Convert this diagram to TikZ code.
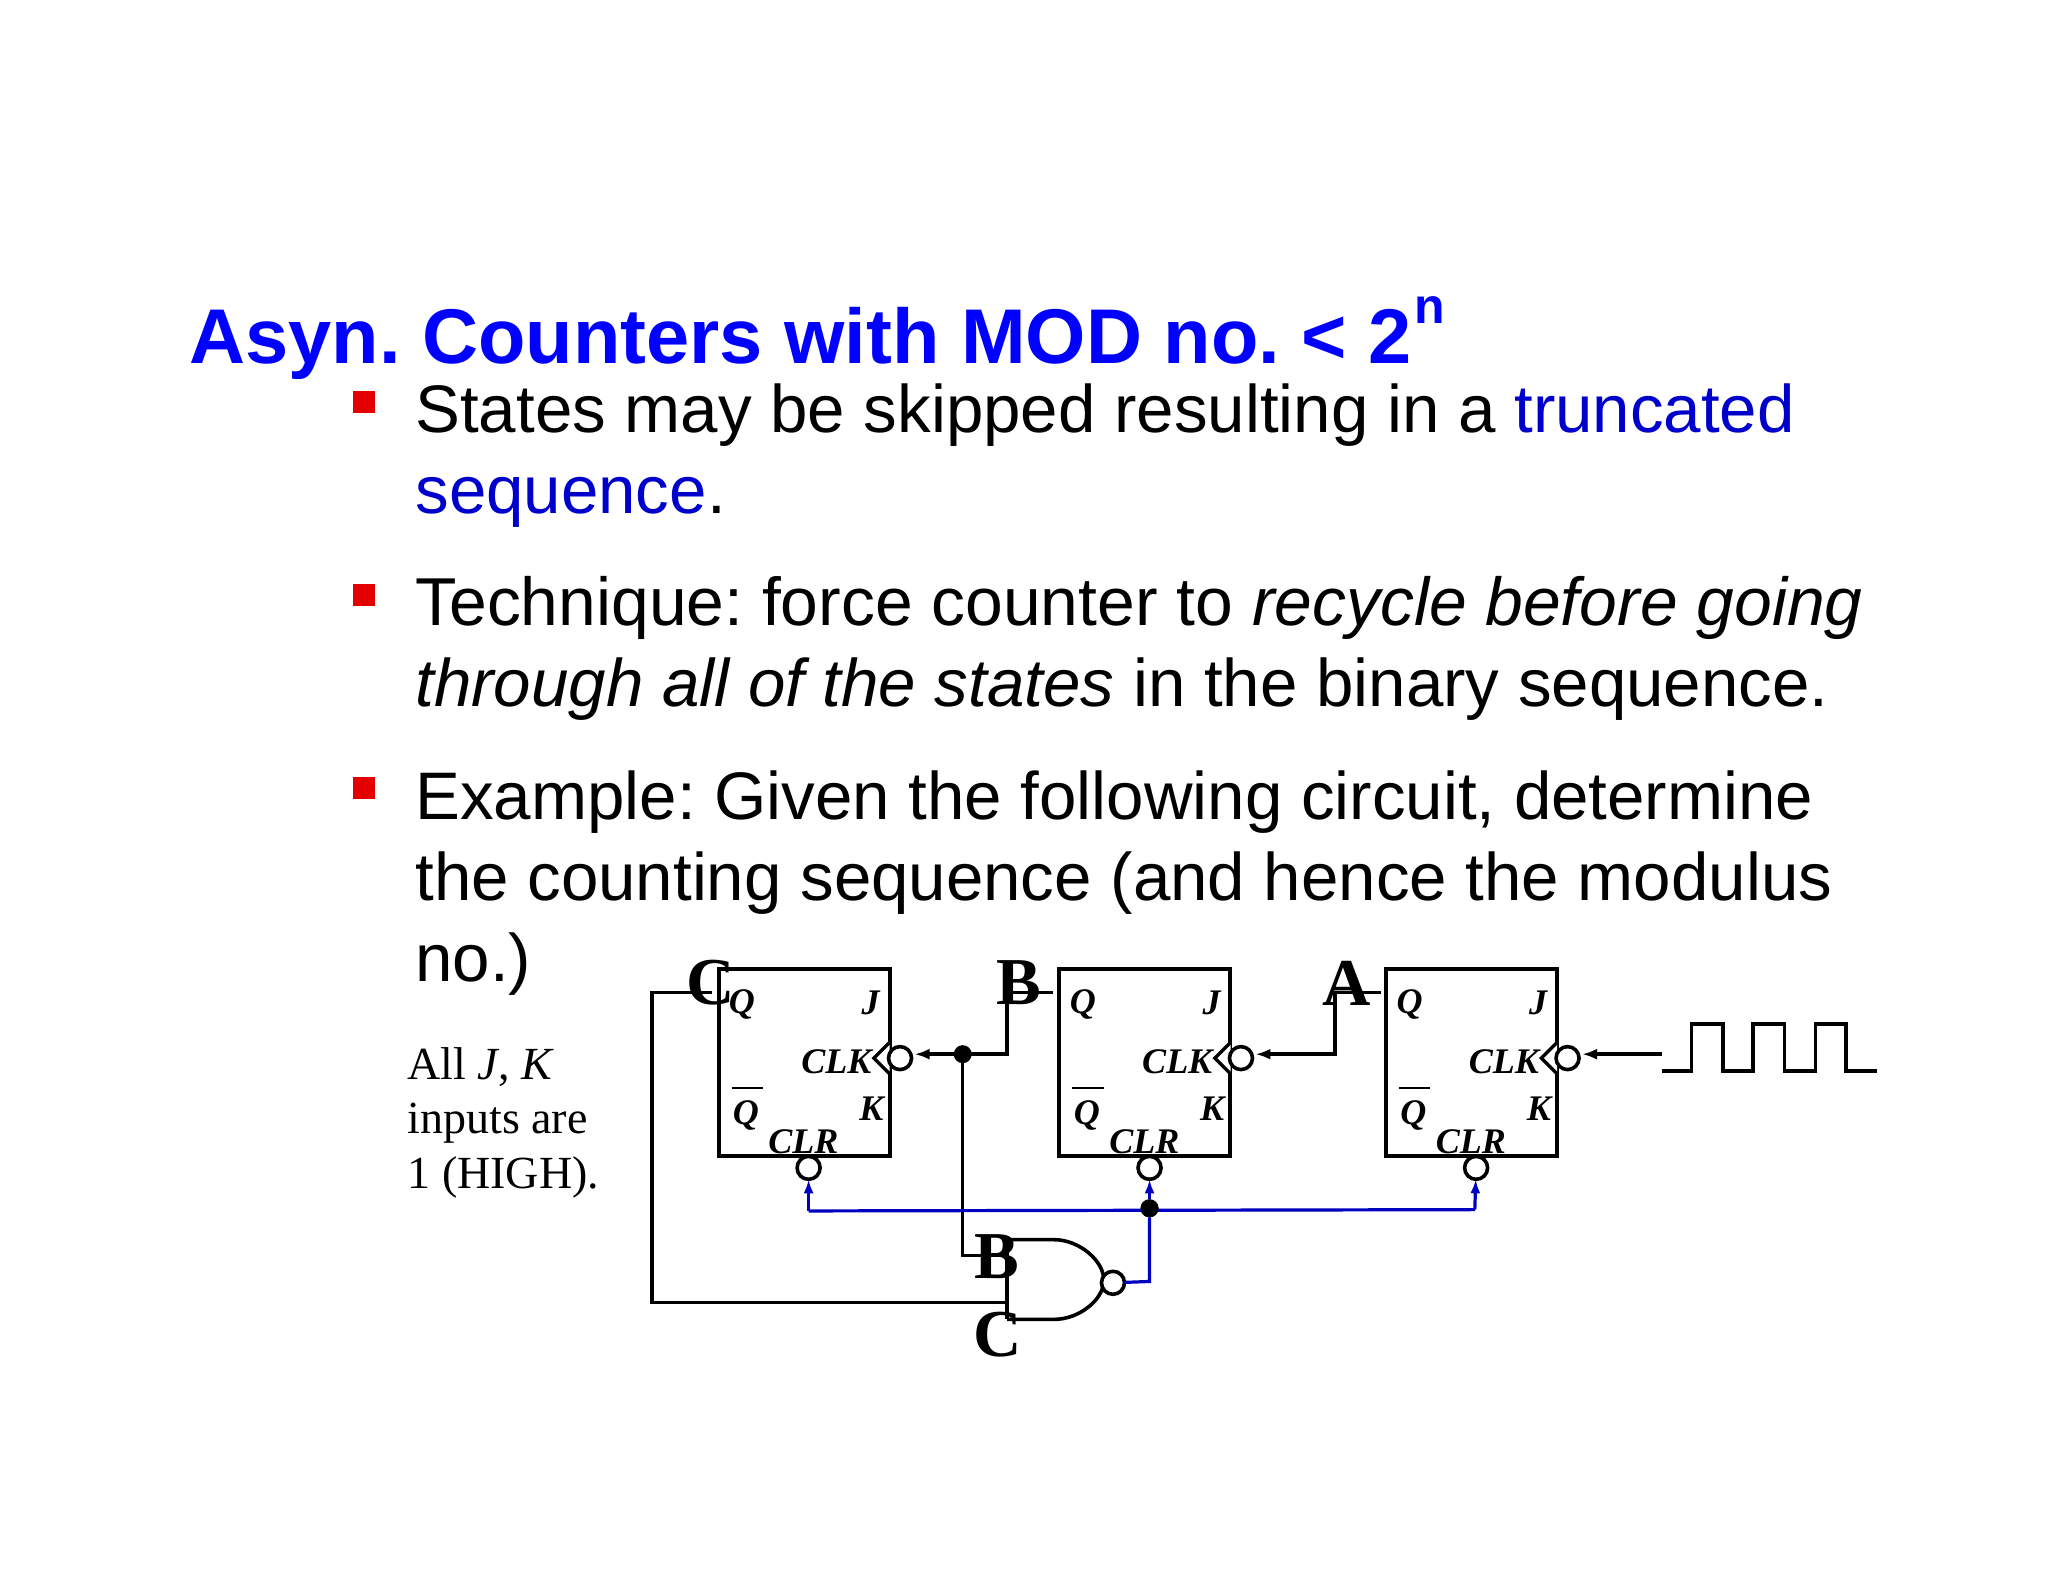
\documentclass[tikz,border=0pt]{standalone}
\usepackage{fontspec}
\setmainfont{Liberation Sans}
\newfontfamily\tms{Liberation Serif}
\usetikzlibrary{arrows.meta}
\definecolor{ttl}{RGB}{0,0,255}
\definecolor{hl}{RGB}{0,0,204}
\definecolor{wb}{RGB}{0,0,192}
\definecolor{bul}{RGB}{227,0,0}
\newcommand\bodysz{\frenchspacing\fontsize{67.25}{80}\selectfont}
\newcommand\widesz{\frenchspacing\fontsize{67.8}{80}\selectfont}
\newcommand\pinsz{\tms\bfseries\itshape\fontsize{36}{40}\selectfont}
\newcommand\bigsz{\tms\bfseries\fontsize{67}{70}\selectfont}
\tikzset{
  txt/.style={anchor=base west,inner sep=0,outer sep=0,font=\bodysz},
  ffbox/.style={draw,line width=4pt,minimum width=171pt,minimum height=187pt,inner sep=0,outer sep=0},
  bubble/.style={circle,draw,line width=3.6pt,fill=white,minimum size=23pt,inner sep=0,outer sep=0},
  pin/.style={inner sep=0,outer sep=0,font=\pinsz},
  biglab/.style={inner sep=0,outer sep=0,font=\bigsz},
  wire/.style={line width=3.4pt,line join=miter},
  bwire/.style={line width=3.2pt,wb},
  arr/.style={-{Latex[length=15pt,width=11pt]},shorten >=3pt},
  dot/.style={circle,fill=black,minimum size=18pt,inner sep=0,outer sep=0},
  bulletbox/.style={fill=bul,minimum width=22pt,minimum height=22pt,inner sep=0,outer sep=0,anchor=north west},
  note/.style={anchor=base west,inner sep=0,outer sep=0,font=\frenchspacing\tms\fontsize{46}{50}\selectfont}
}
\newcommand\ffblock[2]{%
  \begin{scope}[shift={(#2,0)}]
    \node[ffbox] (#1box) at (65.5,813.5) {};
    \node[pin] (#1q) at (18,769) {Q};
    \node[pin] (#1j) at (116.5,768) {J};
    \node[pin,anchor=east] (#1clk) at (117,813) {CLK};
    \node[pin] (#1qn) at (21,854) {Q};
    \draw[line width=2.4pt] (10,833) -- (34,833);
    \node[pin] (#1k) at (117,849) {K};
    \node[pin] (#1clr) at (65,874) {CLR};
    \draw[line width=3.4pt,fill=white] (131,798) -- (119,810) -- (131,822);
    \node[bubble] (#1cb) at (139,810) {};
    \node[bubble] (#1rb) at (69,894) {};
  \end{scope}}
\begin{document}
\begin{tikzpicture}[x=1.3063pt,y=-1.3063pt]
\useasboundingbox[fill=white] (0,0) rectangle (1567.8,1211.05);
% text
\node[txt,font=\frenchspacing\bfseries\fontsize{77.6}{80}\selectfont,text=ttl] (title) at (145,278) {Asyn. Counters with MOD no. < 2};
\node[txt,font=\bfseries\fontsize{50}{50}\selectfont,text=ttl] (titlesup) at (1083,248) {n};
\node[bulletbox] (b1) at (270,299) {};
\node[bulletbox] (b2) at (270,447) {};
\node[bulletbox] (b3) at (270,595) {};
\node[txt] (l1) at (318,331) {States may be skipped resulting in a \textcolor{hl}{truncated}};
\node[txt] (l2) at (318,393) {\textcolor{hl}{sequence}.};
\node[txt,font=\widesz] (l3) at (318,479) {Technique: force counter to \textit{recycle before going}};
\node[txt] (l4) at (318,541) {\textit{through all of the states} in the binary sequence.};
\node[txt] (l5) at (318,627) {Example: Given the following circuit, determine};
\node[txt] (l6) at (318,689) {the counting sequence (and hence the modulus};
\node[txt] (l7) at (318,751) {no.)};
\node[note] (n1) at (312,826) {All \textit{J}, \textit{K}};
\node[note] (n2) at (312,868) {inputs are};
\node[note] (n3) at (312,910) {1 (HIGH).};
% flip-flops
\ffblock{fc}{550}
\ffblock{fb}{811}
\ffblock{fa}{1061}
% coordinates
\coordinate (cstub) at (545,760);
\coordinate (cl) at (499,760);
\coordinate (cb) at (499,997);
\coordinate (bstub) at (806,760);
\coordinate (bup) at (771,760);
\coordinate (bdn) at (771,807);
\coordinate (astub) at (1057,760);
\coordinate (aup) at (1022,760);
\coordinate (adn) at (1022,807);
\coordinate (clkin) at (1272,807);
\coordinate (nandA) at (771,961);
\coordinate (nandB) at (771,997);
\coordinate (nandtl) at (771,949);
\coordinate (nandbl) at (771,1010);
\coordinate (nandout) at (880,981);
\coordinate (bluel) at (619,927);
\coordinate (bluer) at (1129,926);
\node[dot] (j1) at (737,807) {};
\node[dot] (j2) at (880,925) {};
\coordinate (jdn) at (737,961);
% wires
\draw[wire] (cstub) -- (cl) -- (cb) -- (nandB);
\draw[wire,arr] (bstub) -- (bup) -- (bdn) -- (bdn -| fccb.east);
\draw[wire] (j1) -- (jdn) -- (nandA);
\draw[wire,arr] (astub) -- (aup) -- (adn) -- (adn -| fbcb.east);
\draw[wire,arr] (clkin) -- (clkin -| facb.east);
% waveform
\coordinate (w0) at (1272,820);
\coordinate (w9) at (1437,820);
\draw[wire,line join=miter] (w0) -- ++(23,0) -- ++(0,-36) -- ++(24,0) -- ++(0,36) -- ++(23,0) -- ++(0,-36) -- ++(24,0) -- ++(0,36) -- ++(24,0) -- ++(0,-36) -- ++(23,0) -- ++(0,36) -- (w9);
% NAND
\draw[line width=3.6pt] (nandtl) -- (nandbl);
\draw[line width=3.6pt] (nandtl) -- ++(36,0) .. controls (826,949) and (845,965) .. (845,980) .. controls (845,995) and (826,1010) .. (807,1010) -- (nandbl);
\node[bubble] (nb) at (852,982) {};
% blue
\draw[bwire] (nb) -- (nandout) -- (j2);
\draw[bwire] (bluel) -- (bluer);
\draw[bwire,-{Latex[length=14pt,width=10pt]}] (bluel) -- (fcrb);
\draw[bwire,-{Latex[length=14pt,width=10pt]}] (bluer) -- (farb);
\draw[bwire,-{Latex[length=14pt,width=10pt]}] (j2) -- (j2 |- fbrb.south);
\node[dot,fill=black] at (j2) {};
% big labels
\node[biglab] (lc) at (544,752) {C};
\node[biglab] (lb) at (780,752) {B};
\node[biglab] (la) at (1031,753) {A};
\node[biglab] (lb2) at (763,962) {B};
\node[biglab] (lc2) at (764,1022) {C};
\end{tikzpicture}
\end{document}
